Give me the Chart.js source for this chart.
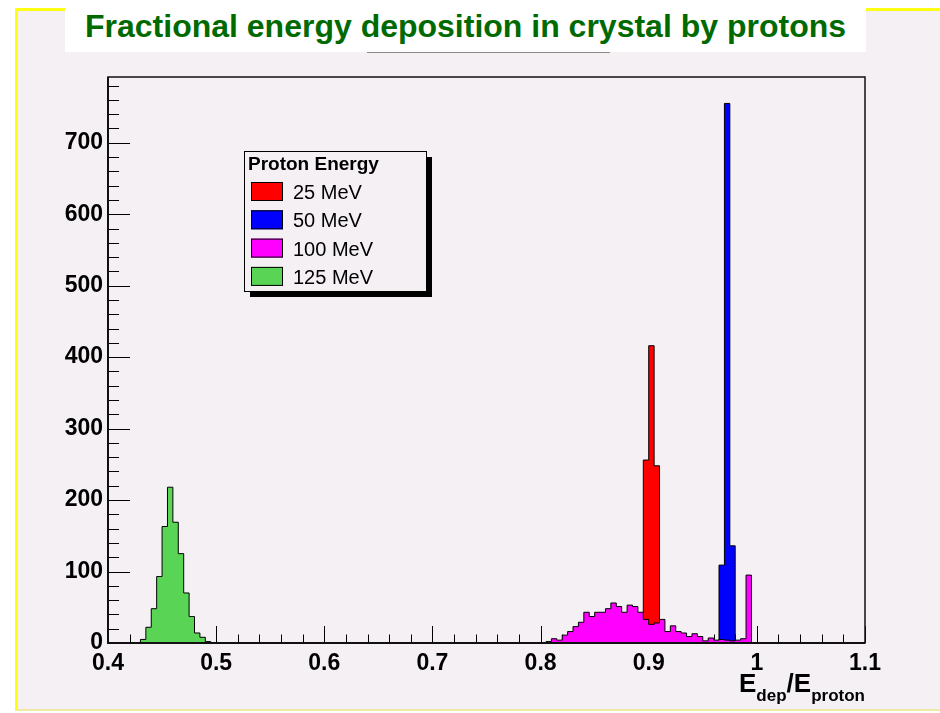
<!DOCTYPE html>
<html>
<head>
<meta charset="utf-8">
<title>Fractional energy deposition in crystal by protons</title>
<script src="https://cdn.jsdelivr.net/npm/chart.js@4"></script>
<style>
    html, body { margin: 0; padding: 0; background: #fff; }
    body { width: 940px; height: 713px; position: relative; overflow: hidden; font-family: "Liberation Sans", Arial, Helvetica, sans-serif; }
    #pad { position: absolute; left: 15px; top: 8px; right: 0; bottom: 2px; background: #f5f0f4;
           border-top: 3px solid #ffff14; border-left: 3px solid #ffff14; border-bottom: 2px solid #efe9a6; }
    #plot { position: absolute; left: 0; top: 0; }
    #title { position: absolute; left: 65px; top: 0; width: 801px; height: 52px; background: #fff;
             color: #006a00; font-weight: bold; font-size: 32px; line-height: 52px; text-align: center; white-space: nowrap; }
    #titleLine { position: absolute; left: 367px; top: 52px; width: 243px; height: 1px; background: #8a8a8a; }
    #xTitle { position: absolute; right: 75px; top: 668px; font-weight: bold; font-size: 26px; color: #000; white-space: nowrap; }
    #xTitle sub { font-size: 17px; vertical-align: -9px; }
</style>
</head>
<body>
<div id="pad"></div>
<canvas id="plot" width="940" height="713"></canvas>
<div id="title">Fractional energy deposition in crystal by protons</div>
<div id="titleLine"></div>
<div id="xTitle">E<sub>dep</sub>/E<sub>proton</sub></div>
<script>
// histogram bins: width 0.005, each series starts at its first low edge
const binWidth = 0.005;

const start25 = 0.895;
const counts25 = [256, 416, 248, 0, 1];

const start50 = 0.965;
const counts50 = [109, 755, 136];

const start100 = 0.805;
const counts100 = [2, 6, 4, 11, 16, 23, 29, 43, 37, 43,
                   43, 48, 56, 51, 43, 53, 51, 43, 33, 26,
                   28, 33, 16, 24, 16, 14, 9, 13, 9, 3,
                   7, 4, 5, 4, 3, 4, 6, 95];

const start125 = 0.430;
const counts125 = [5, 22, 48, 93, 163, 218, 169, 125, 70, 37, 14, 8, 2];

const seriesNames = ['25 MeV', '50 MeV', '100 MeV', '125 MeV'];
const seriesColors = ['#ff0000', '#0000ff', '#ff00ff', '#59d454'];

const xTicks = [0.4, 0.5, 0.6, 0.7, 0.8, 0.9, 1.0, 1.1];
const yTicks = [0, 100, 200, 300, 400, 500, 600, 700];
const yMax = 792;

const fontFamily = '"Liberation Sans", Arial, Helvetica, sans-serif';

// step outline points for a histogram (closed down to zero at both ends)
function histPoints(start, counts) {
    const pts = [{x: start, y: 0}];
    counts.forEach((c, i) => pts.push({x: +(start + i * binWidth).toFixed(4), y: c}));
    pts.push({x: +(start + counts.length * binWidth).toFixed(4), y: 0});
    return pts;
}

function histDataset(idx, start, counts, order) {
    return {
        label: seriesNames[idx],
        data: histPoints(start, counts),
        stepped: 'before',   // hold each bin's value until the next low edge
        fill: 'origin',
        backgroundColor: seriesColors[idx],
        borderColor: '#000',
        borderWidth: 1,
        pointRadius: 0,
        order: order
    };
}

// inner tick marks, ROOT style (drawn under the histograms)
const axisTicks = {
    id: 'axisTicks',
    beforeDatasetsDraw(chart) {
        const {ctx, chartArea: a, scales: {x, y}} = chart;
        ctx.save();
        ctx.strokeStyle = '#000';
        ctx.lineWidth = 1;
        ctx.beginPath();
        for (let i = 0; i * 20 < yMax; i++) {
            const py = Math.round(y.getPixelForValue(i * 20)) + 0.5;
            const len = i % 5 === 0 ? 22 : 11;
            ctx.moveTo(a.left, py);
            ctx.lineTo(a.left + len, py);
        }
        for (let i = 0; i <= 35; i++) {
            const px = Math.round(x.getPixelForValue(0.4 + i * 0.02)) + 0.5;
            const len = i % 5 === 0 ? 17 : 8.5;
            ctx.moveTo(px, a.bottom);
            ctx.lineTo(px, a.bottom - len);
        }
        ctx.stroke();
        ctx.restore();
    },
    afterDatasetsDraw(chart) {
        const {ctx, chartArea: a} = chart;
        ctx.save();
        ctx.strokeStyle = '#111';
        ctx.lineWidth = 1.5;
        ctx.strokeRect(a.left, a.top, a.right - a.left, a.bottom - a.top);
        ctx.lineWidth = 2;
        ctx.beginPath();
        ctx.moveTo(a.left, a.top);
        ctx.lineTo(a.left, a.bottom);
        ctx.lineTo(a.right, a.bottom);
        ctx.stroke();
        ctx.restore();
    }
};

// legend box with drop shadow
const legendBox = {
    id: 'legendBox',
    afterDraw(chart) {
        const ctx = chart.ctx;
        const bx = 244, by = 151, bw = 182, bh = 140;
        ctx.save();
        ctx.fillStyle = '#000';
        ctx.fillRect(bx + 6, by + 6, bw, bh);
        ctx.fillStyle = '#f5f0f4';
        ctx.fillRect(bx, by, bw, bh);
        ctx.strokeStyle = '#000';
        ctx.lineWidth = 1;
        ctx.strokeRect(bx + 0.5, by + 0.5, bw, bh);

        ctx.fillStyle = '#000';
        ctx.textBaseline = 'alphabetic';
        ctx.font = 'bold 19px ' + fontFamily;
        ctx.fillText('Proton Energy', 248, 170);

        ctx.font = '20px ' + fontFamily;
        seriesNames.forEach((name, i) => {
            const sy = 182 + i * 28.3;
            ctx.fillStyle = seriesColors[i];
            ctx.fillRect(251, sy, 32, 19);
            ctx.strokeStyle = '#000';
            ctx.strokeRect(251.5, sy + 0.5, 31, 18);
            ctx.fillStyle = '#000';
            ctx.fillText(name, 293, sy + 17);
        });
        ctx.restore();
    }
};

new Chart(document.getElementById('plot'), {
    type: 'line',
    data: {
        datasets: [
            histDataset(0, start25, counts25, 2),
            histDataset(1, start50, counts50, 2),
            histDataset(2, start100, counts100, 1),
            histDataset(3, start125, counts125, 2)
        ]
    },
    options: {
        responsive: false,
        animation: false,
        devicePixelRatio: 1,
        layout: {padding: {left: 0, top: 77, right: 75, bottom: 0}},
        plugins: {
            legend: {display: false},
            tooltip: {enabled: false},
            title: {display: false}
        },
        scales: {
            x: {
                type: 'linear',
                min: 0.4,
                max: 1.1,
                afterBuildTicks: s => { s.ticks = xTicks.map(v => ({value: v})); },
                afterFit: s => { s.height = 70; },
                ticks: {
                    color: '#000',
                    padding: 7,
                    font: {family: fontFamily, size: 23, weight: 'bold'},
                    callback: v => String(+v.toFixed(1))
                },
                grid: {display: false, drawTicks: false},
                border: {display: false}
            },
            y: {
                min: 0,
                max: yMax,
                afterBuildTicks: s => { s.ticks = yTicks.map(v => ({value: v})); },
                afterFit: s => { s.width = 108; },
                ticks: {
                    color: '#000',
                    padding: 5,
                    font: {family: fontFamily, size: 23, weight: 'bold'}
                },
                grid: {display: false, drawTicks: false},
                border: {display: false}
            }
        }
    },
    plugins: [axisTicks, legendBox]
});
</script>
</body>
</html>
